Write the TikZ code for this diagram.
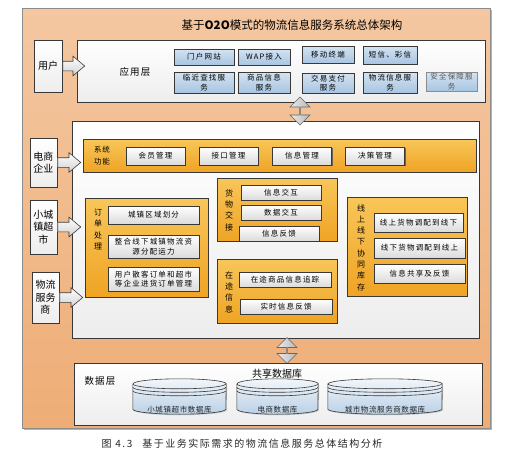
\documentclass[tikz,border=0pt]{standalone}
\usepackage{fontspec}
\setmainfont{Noto Sans CJK SC}
\usepackage{tikz}
\usetikzlibrary{positioning, shapes.geometric, shapes.arrows, shadows}
\definecolor{framepeach}{HTML}{F4C7A1}
\definecolor{framedeep}{HTML}{EEAD76}
\definecolor{orangetop}{HTML}{F8C65A}
\definecolor{orangebot}{HTML}{EFA424}
\definecolor{bluetop}{HTML}{D3E3F2}
\definecolor{bluebot}{HTML}{A8C5E1}
\definecolor{dbtop}{HTML}{F2F6FA}
\definecolor{dbbot}{HTML}{B9D0E6}
\definecolor{edgegray}{HTML}{383838}

\begin{document}
\begin{tikzpicture}[x=1pt, y=-1pt,
    boxsize/.style 2 args={minimum width=#1pt, minimum height=#2pt},
    boxshadow/.style={drop shadow={shadow xshift=1.3pt, shadow yshift=-1.3pt, fill=black!65, opacity=0.9}},
    layer/.style={draw=edgegray, line width=0.8pt, top color=white, bottom color=black!7, inner sep=0pt, boxshadow},
    actor/.style={layer, align=center, font=\fontsize{10}{12.5}\selectfont},
    orangebox/.style={draw=edgegray, line width=0.8pt, top color=orangetop, bottom color=orangebot, inner sep=0pt, boxshadow},
    btn/.style={draw=edgegray, line width=0.8pt, top color=white, bottom color=black!14, inner sep=0pt, align=center, font=\fontsize{7.5}{9.5}\selectfont\addfontfeatures{LetterSpace=16}, boxshadow},
    bluebtn/.style={btn, top color=bluetop, bottom color=bluebot},
    vlabel/.style={align=center, font=\fontsize{8}{11.3}\selectfont},
    layerlbl/.style={font=\fontsize{9.5}{11}\selectfont\addfontfeatures{LetterSpace=12}},
    fatarrow/.style={single arrow, draw=edgegray, line width=0.6pt, top color=white, bottom color=black!18, inner xsep=0pt, inner ysep=4.5pt, single arrow head extend=5pt, single arrow tip angle=80},
    duoarrow/.style={double arrow, shape border rotate=90, draw=black!60, line width=0.6pt, left color=black!8, right color=black!28, minimum width=20pt, double arrow head extend=4pt, double arrow tip angle=90, inner sep=0pt},
    dbcore/.style={inner sep=0pt},
    dblabel/.style={font=\fontsize{7.5}{9}\selectfont\addfontfeatures{LetterSpace=8}, text=black!85},
]
\useasboundingbox (0,0) rectangle (507,455);

% outer frame and title
\node[draw=black!45, top color=framepeach, bottom color=framedeep, boxsize={468}{420}, drop shadow={shadow xshift=2pt, shadow yshift=-2pt, fill=black!60}] (frame) at (256,218) {};
\node[font=\fontsize{11.5}{13}\selectfont] (title) at (292,25) {基于\textbf{O2O}模式的物流信息服务系统总体架构};

% application layer
\node[layer, boxsize={408}{62}] (app) at (281,71) {};
\node[layerlbl] (applbl) at (135,72) {应用层};
\node[actor, boxsize={28}{52}] (user) at (48,66) {用户};
\node[fatarrow, minimum height=22pt, anchor=tail] (userarr) at (user.east) {};

\node[bluebtn, boxsize={60}{16}] (portal) at (204,57) {门户网站};
\node[bluebtn, boxsize={52}{16}] (wap) at (264,57) {WAP接入};
\node[bluebtn, boxsize={52}{17}] (mobile) at (328,54.5) {移动终端};
\node[bluebtn, boxsize={54}{18}] (sms) at (390,55) {短信、彩信};
\node[bluebtn, boxsize={60}{21}] (nearby) at (204,82.5) {临近查找服\\务};
\node[bluebtn, boxsize={52}{21}] (goods) at (264,82.5) {商品信息\\服务};
\node[bluebtn, boxsize={52}{20}] (pay) at (328,83) {交易支付\\服务};
\node[bluebtn, boxsize={54}{21}] (logist) at (390,82.5) {物流信息服\\务};
\node[bluebtn, boxsize={51}{19}, draw=black!45, text=black!65] (safety) at (451.5,81.5) {安全保障服\\务};

% middle layer
\node[layer, boxsize={407}{217}] (mid) at (275.5,229.5) {};
\node[duoarrow, minimum height=28pt] (arrup) at (300,111) {};

\node[actor, boxsize={27}{49}] (ecom) at (43.5,162.5) {电商\\企业};
\node[actor, boxsize={27}{54}] (shop) at (43.5,227) {小城\\镇超\\市};
\node[actor, boxsize={27}{51}] (carrier) at (45.5,297.5) {物流\\服务\\商};
\node[fatarrow, minimum height=23pt, anchor=tail] (ecomarr) at (ecom.east) {};
\node[fatarrow, minimum height=23pt, anchor=tail] (shoparr) at (shop.east) {};
\node[fatarrow, minimum height=23pt, anchor=tail] (carrierarr) at (carrier.east) {};

\node[orangebox, boxsize={393}{33}] (sysbar) at (279.5,155.5) {};
\node[vlabel, font=\fontsize{7.5}{12}\selectfont\addfontfeatures{LetterSpace=12}] (syslbl) at (102,156) {系统\\功能};
\node[btn, boxsize={59}{18}] (member) at (155.5,156) {会员管理};
\node[btn, boxsize={59}{18}] (iface) at (228.5,156) {接口管理};
\node[btn, boxsize={59}{18}] (infomgr) at (302,156) {信息管理};
\node[btn, boxsize={59}{18}] (decide) at (375,156) {决策管理};

\node[orangebox, boxsize={123}{99}] (order) at (146.5,247.5) {};
\node[vlabel] (orderlbl) at (98,229.5) {订\\单\\处\\理};
\node[btn, boxsize={91}{18}] (zone) at (153.5,215) {城镇区域划分};
\node[btn, boxsize={91}{23}] (capacity) at (153.5,246.5) {整合线下城镇物流资\\源分配运力};
\node[btn, boxsize={91}{24}] (ordermgr) at (153.5,279) {用户散客订单和超市\\等企业进货订单管理};

\node[orangebox, boxsize={120}{63}] (handover) at (277,209.5) {};
\node[vlabel] (handlbl) at (229,210) {货\\物\\交\\接};
\node[btn, boxsize={80}{15}] (infox) at (281,192.5) {信息交互};
\node[btn, boxsize={80}{15}] (datax) at (281,212.5) {数据交互};
\node[btn, boxsize={80}{15}] (feedback) at (279,233.5) {信息反馈};

\node[orangebox, boxsize={120}{64}] (transit) at (277,291) {};
\node[vlabel] (translbl) at (229,292) {在\\途\\信\\息};
\node[btn, boxsize={92}{15}] (track) at (285,279.5) {在途商品信息追踪};
\node[btn, boxsize={92}{15}] (realtime) at (286,306.5) {实时信息反馈};

\node[orangebox, boxsize={120}{99}] (stock) at (407,246.5) {};
\node[vlabel] (stocklbl) at (361,247.5) {线\\上\\线\\下\\协\\同\\库\\存};
\node[btn, boxsize={89}{19}] (up2down) at (418.5,222.5) {线上货物调配到线下};
\node[btn, boxsize={91}{20}] (down2up) at (419.5,248) {线下货物调配到线上};
\node[btn, boxsize={91}{19}] (share) at (419.5,273.5) {信息共享及反馈};

% data layer
\node[duoarrow, minimum height=26pt] (arrdown) at (287,350.5) {};
\node[layer, boxsize={408}{62}] (data) at (278,394) {};
\node[layerlbl] (datalbl) at (100,381) {数据层};
\node[font=\fontsize{10}{12}\selectfont] (sharedb) at (277,374) {共享数据库};

\node[dbcore, boxsize={93}{25}] (db1) at (179.5,396.5) {};
\node[dbcore, boxsize={81}{25}] (db2) at (277.5,396.5) {};
\node[dbcore, boxsize={114}{25}] (db3) at (385,396.5) {};
\foreach \db/\rx in {db1/46.5, db2/40.5, db3/57} {
  \draw[edgegray, line width=0.6pt, top color=dbtop, bottom color=dbbot, drop shadow={shadow xshift=1pt, shadow yshift=-1pt, fill=black!40}]
    (\db.north west) -- (\db.south west) arc[start angle=180, end angle=360, x radius=\rx pt, y radius=5pt]
    -- (\db.north east) arc[start angle=0, end angle=180, x radius=\rx pt, y radius=5pt] -- cycle;
  \draw[edgegray, line width=0.6pt] (\db.north west) arc[start angle=180, end angle=360, x radius=\rx pt, y radius=5pt];
  \draw[edgegray, line width=0.6pt] ([yshift=-3.5pt]\db.north west) arc[start angle=180, end angle=360, x radius=\rx pt, y radius=5pt];
  \draw[edgegray, line width=0.6pt] ([yshift=-7pt]\db.north west) arc[start angle=180, end angle=360, x radius=\rx pt, y radius=5pt];
}
\node[dblabel] (db1lbl) at (db1.south) {小城镇超市数据库};
\node[dblabel] (db2lbl) at (db2.south) {电商数据库};
\node[dblabel] (db3lbl) at (db3.south) {城市物流服务商数据库};

% caption
\node[font=\fontsize{10}{12}\selectfont\addfontfeatures{LetterSpace=15}, text=black!85] (caption) at (242,444) {图 4.3\quad 基于业务实际需求的物流信息服务总体结构分析};
\end{tikzpicture}
\end{document}
